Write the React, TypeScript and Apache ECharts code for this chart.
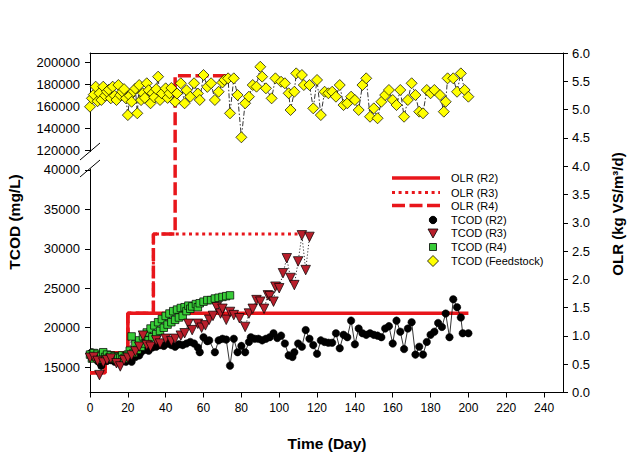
import React, { useEffect, useRef } from "react";
import * as echarts from "echarts";

// ---------- data ----------
const xTicks = [0, 20, 40, 60, 80, 100, 120, 140, 160, 180, 200, 220, 240];
const upperTicks = [120000, 140000, 160000, 180000, 200000];
const lowerTicks = [15000, 20000, 25000, 30000, 35000, 40000];

const olrR2: [number, number][] = [[0, 0.35], [8, 0.35], [8, 0.7], [20, 0.7], [20, 1.4], [200, 1.4]];
const olrR3: [number, number][] = [[0, 0.35], [8, 0.35], [8, 0.7], [20, 0.7], [20, 1.4], [33.5, 1.4], [33.5, 2.8], [116, 2.8]];
const olrR4: [number, number][] = [[0, 0.35], [8, 0.35], [8, 0.7], [20, 0.7], [20, 1.4], [33.5, 1.4], [33.5, 2.8], [45, 2.8], [45, 5.6], [72, 5.6]];

const tcodR2: [number, number][] = [
  [0, 16700], [1, 16900], [2, 16400], [3, 16500], [4, 15800], [5, 15600], [6, 15200], [7, 16000], [8, 15900], [9, 15800],
  [10, 16200], [11, 15900], [12, 16000], [13, 15700], [14, 15900], [16, 16100], [17, 15800], [18, 16100], [19, 15700], [20, 16000],
  [22, 15700], [24, 16300], [26, 16500], [27, 16900], [29, 17200], [31, 17100], [33, 17500], [35, 17600], [37, 17800], [39, 17700],
  [41, 18000], [43, 17800], [45, 17600], [47, 17900], [49, 17800], [51, 18000], [53, 18200], [55, 18000], [57, 17500], [58, 16900],
  [60, 18800], [62, 18300], [63, 18400], [66, 16900], [68, 18400], [70, 18600], [72, 18500], [74, 15200], [76, 18600], [78, 16900],
  [80, 17700], [82, 16900], [84, 18200], [85, 18800], [87, 18600], [89, 18600], [91, 18400], [93, 18600], [95, 18800], [97, 19300],
  [99, 18700], [101, 19000], [103, 18000], [105, 16500], [107, 16300], [108, 16900], [110, 18000], [112, 17600], [114, 19700], [116, 18600],
  [118, 17800], [120, 16700], [122, 18400], [124, 18200], [126, 18100], [128, 18100], [130, 19300], [132, 17400], [134, 19100], [136, 18800],
  [138, 20900], [140, 17900], [142, 19900], [144, 19300], [146, 19100], [148, 19300], [150, 19100], [152, 19000], [154, 18800], [156, 19900],
  [158, 20200], [160, 18000], [162, 20900], [164, 19500], [166, 17300], [168, 19900], [170, 20700], [172, 16600], [174, 17600], [176, 16600],
  [178, 18200], [180, 19100], [182, 19500], [184, 20600], [186, 20100], [188, 21800], [190, 18800], [192, 23600], [194, 22600], [196, 21300],
  [197, 19300], [200, 19300],
];

const tcodR3: [number, number][] = [
  [0, 16200], [2, 16300], [4, 15800], [5, 14000], [7, 15600], [9, 15900], [11, 16100], [14, 15500], [16, 15100], [18, 15900],
  [20, 16200], [22, 16500], [24, 17000], [26, 17600], [28, 19000], [30, 17800], [32, 17600], [35, 18400], [37, 18000], [40, 18600],
  [43, 18300], [45, 18600], [48, 19000], [50, 19300], [52, 20500], [54, 19700], [57, 20500], [59, 20000], [61, 20300], [63, 21000],
  [65, 21500], [67, 22600], [69, 21800], [70, 22400], [72, 21000], [74, 22000], [76, 21600], [79, 21200], [82, 20100], [84, 21800],
  [86, 22400], [88, 23500], [90, 23300], [92, 22400], [94, 24100], [95, 24000], [97, 23300], [98, 25200], [100, 25000], [102, 26900],
  [104, 28800], [106, 26300], [108, 25400], [110, 28400], [112, 31700], [114, 27300], [116, 31500],
];

const tcodR4: [number, number][] = [
  [0, 16600], [1, 16100], [2, 16800], [3, 16300], [4, 16700], [5, 16000], [6, 16500], [7, 16900], [8, 16300], [9, 16600],
  [10, 16200], [11, 16500], [12, 16100], [13, 16400], [14, 16000], [15, 16300], [16, 16200], [17, 16500], [18, 16100], [19, 16400],
  [20, 16600], [21, 17100], [22, 18900], [23, 16800], [24, 17900], [25, 17200], [26, 18400], [27, 17600], [28, 18900], [29, 18000],
  [30, 19400], [31, 18400], [32, 19900], [33, 18800], [34, 20300], [35, 19200], [36, 20700], [37, 19600], [38, 21100], [39, 20000],
  [40, 21500], [41, 20400], [42, 21800], [43, 20700], [44, 22100], [45, 21000], [46, 22300], [47, 21300], [48, 22500], [49, 21500],
  [50, 22600], [51, 22100], [52, 22800], [53, 22400], [54, 22700], [56, 23000], [57, 22600], [58, 23100], [60, 23300], [62, 23500],
  [64, 23500], [66, 23700], [68, 23800], [70, 23900], [72, 24000], [74, 24100],
];

const tcodFeed: [number, number][] = [
  [0, 160000], [1, 167600], [2, 171000], [3, 178200], [4, 165000], [5, 172200], [6, 166100], [7, 178200], [8, 170000], [9, 173600],
  [10, 175500], [11, 167600], [12, 178200], [13, 170000], [14, 166100], [15, 179700], [16, 170500], [17, 173600], [18, 176000], [19, 167600],
  [20, 152400], [21, 170000], [22, 164500], [23, 174000], [24, 176500], [25, 154000], [26, 179700], [27, 166000], [28, 172200], [29, 168000],
  [30, 181300], [31, 175000], [32, 163100], [33, 172200], [34, 168500], [35, 176000], [36, 187300], [37, 166100], [38, 172000], [40, 176700],
  [41, 168000], [42, 172200], [43, 177000], [45, 164500], [46, 172000], [48, 181300], [50, 163100], [51, 175000], [53, 169100], [55, 181300],
  [57, 172000], [58, 166100], [60, 188800], [62, 178000], [64, 181300], [66, 166100], [68, 173600], [70, 182000], [71, 184300], [73, 185800],
  [74, 154000], [76, 185800], [78, 170600], [80, 132200], [82, 163100], [84, 169100], [86, 179700], [88, 178200], [90, 196300], [91, 187300],
  [93, 176700], [96, 167600], [98, 185800], [101, 182700], [103, 181300], [105, 172200], [106, 157000], [108, 173600], [109, 190300], [112, 188800],
  [113, 179700], [116, 179700], [118, 158500], [120, 184300], [122, 152400], [124, 173600], [126, 172200], [128, 173600], [130, 169100], [132, 179700],
  [134, 161500], [136, 163100], [138, 169100], [140, 166100], [142, 157000], [144, 179700], [146, 185800], [148, 150900], [150, 158500], [152, 149500],
  [154, 164500], [156, 170600], [158, 175200], [160, 166100], [162, 161500], [164, 175200], [166, 150900], [168, 166100], [170, 181300], [172, 170600],
  [174, 155500], [176, 154000], [178, 175200], [180, 172200], [182, 175200], [185, 170600], [187, 155500], [188, 164500], [189, 185800], [192, 185800],
  [194, 173600], [196, 190300], [198, 175200], [200, 169100],
];

const legendLabels = ["OLR (R2)", "OLR (R3)", "OLR (R4)", "TCOD (R2)", "TCOD (R3)", "TCOD (R4)", "TCOD (Feedstock)"];

// ---------- styling ----------
const FONT = '"Liberation Sans", Arial, Helvetica, sans-serif';
const RED = "#e8161b";
const TRI = "#b81f2b";
const GREEN = "#38cc38";
const YELLOW = "#ffff00";

const GL = 90;
const GW = 473;

export default function App() {
  const ref = useRef<HTMLDivElement>(null);

  useEffect(() => {
    if (!ref.current) return;
    const chart = echarts.init(ref.current, undefined, { renderer: "svg" });

    const axisLine = { show: true, onZero: false, lineStyle: { color: "#000", width: 1 } };
    const tickStyle = { lineStyle: { color: "#000", width: 1 }, length: 5, inside: false };
    const hiddenX = (gi: number) => ({ type: "value", gridIndex: gi, min: 0, max: 250, show: false });
    const plain = (v: number) => String(v);

    const legendRowsY = [178, 192.5, 205.5, 220, 233, 247, 261];
    const lx1 = 392, lx2 = 440, sx = 433, tx = 451;

    const graphic: any[] = [
      // axis break marks
      { type: "line", shape: { x1: 80, y1: 160, x2: 100, y2: 143 }, style: { stroke: "#000", lineWidth: 1 } },
      { type: "line", shape: { x1: 80, y1: 177, x2: 100, y2: 160 }, style: { stroke: "#000", lineWidth: 1 } },
      // axis titles
      {
        type: "text", x: 14, y: 222, rotation: Math.PI / 2,
        style: { text: "TCOD (mg/L)", x: 0, y: 0, align: "center", verticalAlign: "middle", textAlign: "center", textVerticalAlign: "middle", fontFamily: FONT, fontSize: 15.5, fontWeight: "bold", fill: "#000" },
      },
      {
        type: "text", x: 617, y: 214, rotation: Math.PI / 2,
        style: { text: "OLR (kg VS/m³/d)", x: 0, y: 0, align: "center", verticalAlign: "middle", textAlign: "center", textVerticalAlign: "middle", fontFamily: FONT, fontSize: 15, fontWeight: "bold", fill: "#000" },
      },
      {
        type: "text", x: 327, y: 443,
        style: { text: "Time (Day)", x: 0, y: 0, align: "center", verticalAlign: "middle", textAlign: "center", textVerticalAlign: "middle", fontFamily: FONT, fontSize: 15.5, fontWeight: "bold", fill: "#000" },
      },
      // legend samples
      { type: "line", shape: { x1: lx1, y1: legendRowsY[0], x2: lx2, y2: legendRowsY[0] }, style: { stroke: RED, lineWidth: 3.5 } },
      { type: "line", shape: { x1: lx1, y1: legendRowsY[1], x2: lx2, y2: legendRowsY[1] }, style: { stroke: RED, lineWidth: 3, lineDash: [3, 3.6] } },
      { type: "line", shape: { x1: lx1, y1: legendRowsY[2], x2: lx2, y2: legendRowsY[2] }, style: { stroke: RED, lineWidth: 3.5, lineDash: [13, 4.5] } },
      { type: "circle", shape: { cx: sx, cy: legendRowsY[3], r: 3.7 }, style: { fill: "#000", stroke: "#000" } },
      {
        type: "polygon",
        shape: { points: [[sx - 5, legendRowsY[4] - 4], [sx + 5, legendRowsY[4] - 4], [sx, legendRowsY[4] + 5]] },
        style: { fill: TRI, stroke: "#000", lineWidth: 0.8 },
      },
      { type: "rect", shape: { x: sx - 3.5, y: legendRowsY[5] - 3.5, width: 7, height: 7 }, style: { fill: GREEN, stroke: "#000", lineWidth: 0.8 } },
      {
        type: "polygon",
        shape: { points: [[sx, legendRowsY[6] - 5.5], [sx + 5.5, legendRowsY[6]], [sx, legendRowsY[6] + 5.5], [sx - 5.5, legendRowsY[6]]] },
        style: { fill: YELLOW, stroke: "#000", lineWidth: 0.8 },
      },
      ...legendLabels.map((t, i) => ({
        type: "text", x: tx, y: legendRowsY[i],
        style: { text: t, x: 0, y: 0, align: "left", verticalAlign: "middle", textAlign: "left", textVerticalAlign: "middle", fontFamily: FONT, fontSize: 11, fill: "#000" },
      })),
    ];

    const option: any = {
      animation: false,
      backgroundColor: "#fff",
      textStyle: { fontFamily: FONT },
      grid: [
        { left: GL, top: 53, width: GW, height: 339.5, containLabel: false, outerBoundsMode: "none" },
        { left: GL, top: 53, width: GW, height: 98.5, containLabel: false, outerBoundsMode: "none" },
        { left: GL, top: 169, width: GW, height: 223.5, containLabel: false, outerBoundsMode: "none" },
      ],
      xAxis: [
        {
          type: "value", gridIndex: 0, min: 0, max: 250, position: "bottom",
          axisLine,
          axisTick: { show: true, customValues: xTicks, ...tickStyle },
          axisLabel: { show: true, customValues: xTicks, color: "#000", fontSize: 12, margin: 9, fontFamily: FONT, formatter: plain },
          splitLine: { show: false },
        },
        {
          type: "value", gridIndex: 0, min: 0, max: 250, position: "top",
          axisLine, axisTick: { show: false }, axisLabel: { show: false }, splitLine: { show: false },
        },
        hiddenX(1),
        hiddenX(2),
      ],
      yAxis: [
        {
          type: "value", gridIndex: 0, min: 0, max: 6, interval: 0.5, position: "right",
          axisLine,
          axisTick: { show: true, ...tickStyle },
          axisLabel: { show: true, color: "#000", fontSize: 13, margin: 9, fontFamily: FONT, formatter: (v: number) => v.toFixed(1) },
          splitLine: { show: false },
        },
        {
          type: "value", gridIndex: 1, min: 119300, max: 208800, position: "left",
          axisLine,
          axisTick: { show: true, customValues: upperTicks, ...tickStyle },
          axisLabel: { show: true, customValues: upperTicks, color: "#000", fontSize: 13, margin: 10, fontFamily: FONT, formatter: plain },
          splitLine: { show: false },
        },
        {
          type: "value", gridIndex: 2, min: 11800, max: 40100, position: "left",
          axisLine,
          axisTick: { show: true, customValues: lowerTicks, ...tickStyle },
          axisLabel: { show: true, customValues: lowerTicks, color: "#000", fontSize: 13, margin: 10, fontFamily: FONT, formatter: plain },
          splitLine: { show: false },
        },
      ],
      series: [
        {
          name: "OLR (R3)", type: "line", xAxisIndex: 0, yAxisIndex: 0, data: olrR3, showSymbol: false, symbol: "none",
          lineStyle: { color: RED, width: 3, type: [3, 3.6] }, itemStyle: { color: RED },
        },
        {
          name: "OLR (R4)", type: "line", xAxisIndex: 0, yAxisIndex: 0, data: olrR4, showSymbol: false, symbol: "none",
          lineStyle: { color: RED, width: 3.5, type: [13, 4.5] }, itemStyle: { color: RED },
        },
        {
          name: "OLR (R2)", type: "line", xAxisIndex: 0, yAxisIndex: 0, data: olrR2, showSymbol: false, symbol: "none",
          lineStyle: { color: RED, width: 3.5 }, itemStyle: { color: RED },
        },
        {
          name: "TCOD (Feedstock)", type: "line", xAxisIndex: 2, yAxisIndex: 1, data: tcodFeed,
          symbol: "diamond", symbolSize: 11, showAllSymbol: true,
          lineStyle: { color: "#000", width: 0.8, type: [5, 2, 1.5, 2] },
          itemStyle: { color: YELLOW, borderColor: "#000", borderWidth: 0.7 },
        },
        {
          name: "TCOD (R2)", type: "line", xAxisIndex: 3, yAxisIndex: 2, data: tcodR2,
          symbol: "circle", symbolSize: 7.5, showAllSymbol: true,
          lineStyle: { color: "#000", width: 0.8 },
          itemStyle: { color: "#000", borderColor: "#000", borderWidth: 0.5 },
        },
        {
          name: "TCOD (R4)", type: "line", xAxisIndex: 3, yAxisIndex: 2, data: tcodR4,
          symbol: "rect", symbolSize: 7.5, showAllSymbol: true,
          lineStyle: { color: "#000", width: 0.6, type: "dashed" },
          itemStyle: { color: GREEN, borderColor: "#000", borderWidth: 0.7 },
        },
        {
          name: "TCOD (R3)", type: "line", xAxisIndex: 3, yAxisIndex: 2, data: tcodR3,
          symbol: "triangle", symbolRotate: 180, symbolSize: 9.5, showAllSymbol: true,
          lineStyle: { color: "#000", width: 0.8, type: [1.2, 2] },
          itemStyle: { color: TRI, borderColor: "#000", borderWidth: 0.7 },
        },
      ],
      graphic,
    };

    chart.setOption(option);
    return () => chart.dispose();
  }, []);

  return (
    <div
      ref={ref}
      style={{ position: "fixed", left: 0, top: 0, width: 628, height: 452, background: "#fff" }}
    />
  );
}
